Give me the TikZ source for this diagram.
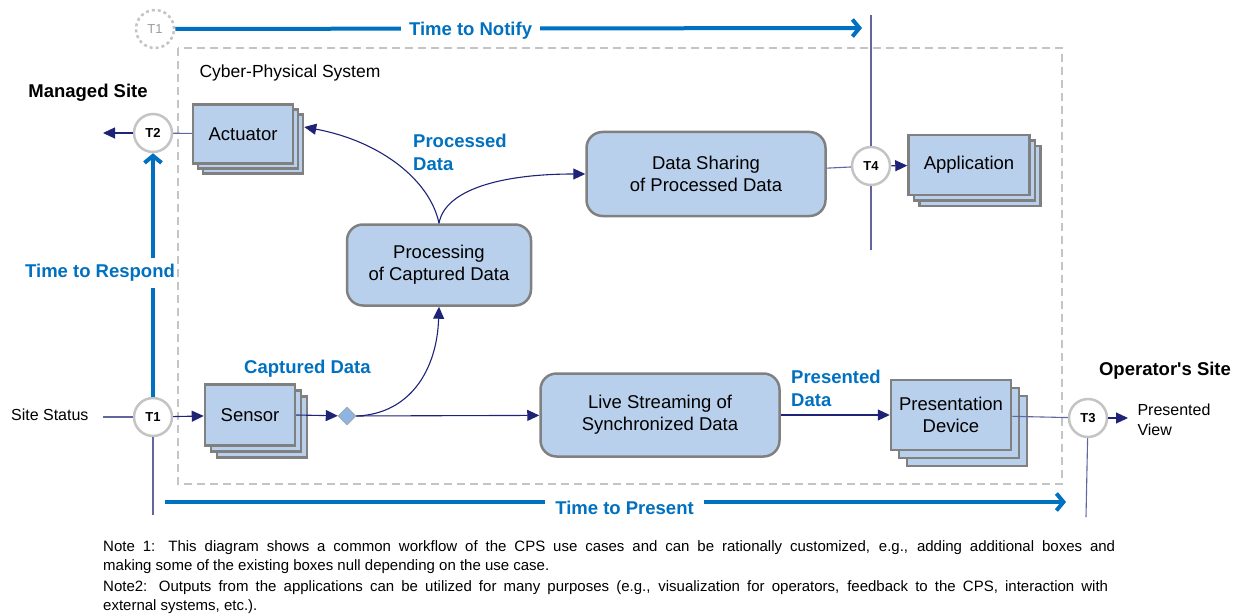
\documentclass[tikz,border=0pt]{standalone}
\usepackage{fontspec}
\setmainfont{Liberation Sans}
\usetikzlibrary{arrows.meta,positioning,shadows,shapes.geometric}
\definecolor{boxblue}{RGB}{185,208,236}
\definecolor{boxgray}{RGB}{128,128,128}
\definecolor{ringgray}{RGB}{196,196,196}
\definecolor{flownavy}{RGB}{30,35,120}
\definecolor{timeblue}{RGB}{0,112,192}
\definecolor{splitblue}{RGB}{142,180,227}
\newcommand\boxfont{\fontsize{18.5}{22}\selectfont}
\newcommand\labelfont{\bfseries\fontsize{18.5}{23}\selectfont}
\tikzset
{
    box/.style      = {rectangle, draw=boxgray, line width=2.5pt, fill=boxblue, align=center, font=\boxfont, inner sep=0pt},
    stackbox/.style = {box,
                       copy shadow={shadow xshift=2*#1, shadow yshift=-2*#1, draw=boxgray, fill=boxblue, line width=2.5pt},
                       copy shadow={shadow xshift=#1, shadow yshift=-#1, draw=boxgray, fill=boxblue, line width=2.5pt}},
    stagebox/.style = {box, rounded corners=16pt},
    tmark/.style    = {circle, draw=ringgray, line width=2.5pt, fill=white, minimum size=38pt, inner sep=0pt, font=\bfseries\fontsize{13}{13}\selectfont},
    flow/.style     = {draw=flownavy, line width=1.1pt, -{Triangle[length=12pt,width=11pt]}},
    wire/.style     = {draw=flownavy!70, line width=1.1pt},
    timer/.style    = {draw=timeblue, line width=4pt, -{Straight Barb[length=7pt,width=17pt,line width=4pt]}},
    tlabel/.style   = {text=timeblue, font=\labelfont, fill=white, inner xsep=8pt, inner ysep=2pt},
    sitelabel/.style= {font=\bfseries\fontsize{18.5}{22}\selectfont},
    notefont/.style = {anchor=west, inner sep=0pt, font=\fontsize{15}{18}\selectfont}
}
\begin{document}
\begin{tikzpicture}[x=1pt, y=-1pt]
  \useasboundingbox (0,0) rectangle (1244,615);

  % cyber-physical system frame
  \draw[ringgray, line width=2pt, dash pattern=on 8pt off 5pt] (178,48) rectangle (1062,484);
  \node (cps) [anchor=west, font=\fontsize{17.5}{20}\selectfont] at (196,73) {Cyber-Physical System};

  % boxes
  \node (act)  [stackbox=5pt, minimum width=100pt, minimum height=59pt] at (243,134) {Actuator};
  \node (sen)  [stackbox=6pt, minimum width=90pt, minimum height=61pt]  at (250,415) {Sensor};
  \node (app)  [stackbox=5.5pt, minimum width=121pt, minimum height=60pt] at (969,165) {Application};
  \node (pres) [stackbox=8pt, minimum width=120pt, minimum height=70pt] at (951,415) {Presentation\\Device};
  \node (proc) [stagebox, minimum width=184pt, minimum height=81pt] at (439,265) {Processing\\of Captured Data};
  \node (share)[stagebox, minimum width=239pt, minimum height=84pt] at (706,174) {Data Sharing\\of Processed Data};
  \node (live) [stagebox, minimum width=239pt, minimum height=83pt] at (660,415) {Live Streaming of\\Synchronized Data};
  \node (split)[diamond, draw=ringgray!85!black, fill=splitblue, line width=0.8pt, minimum size=18pt, inner sep=0pt] at (347,416) {};

  % time marks
  \node (t1n) [tmark, dashed, font=\fontsize{13}{13}\selectfont, text=ringgray!80!black] at (155,29) {T1};
  \node (t1)  [tmark] at (153,417) {T1};
  \node (t2)  [tmark] at (153,133) {T2};
  \node (t3)  [tmark] at (1088,418) {T3};
  \node (t4)  [tmark] at (871,166) {T4};

  % free ends
  \coordinate (stin)   at (103,417);
  \coordinate (mgout)  at (103,133);
  \coordinate (opout)  at (1128,418);
  \coordinate (t1low)  at (153,515);
  \coordinate (t3low)  at (1086,517);
  \coordinate (t4top)  at (871,15);
  \coordinate (t4low)  at (871,250);
  \coordinate (ntend)  at (862,28);
  \coordinate (ptbeg)  at (165,502);
  \coordinate (ptend)  at (1066,502);

  % texts
  \node (site) [anchor=east, font=\fontsize{16}{18}\selectfont] at (92,415) {Site Status};
  \node (view) [anchor=west, align=left, font=\fontsize{16}{20}\selectfont] at (1134,420) {Presented\\View};
  \node (mgs)  [sitelabel] at (88,93) {Managed Site};
  \node (ops)  [sitelabel] at (1165,371) {Operator\textquotesingle s Site};
  \node (lcap) [anchor=west, text=timeblue, font=\labelfont, inner sep=0pt] at (244,369) {Captured Data};
  \node (lproc)[anchor=west, align=left, text=timeblue, font=\labelfont, inner sep=0pt] at (413,152) {Processed\\Data};
  \node (lpres)[anchor=west, align=left, text=timeblue, font=\labelfont, inner sep=0pt] at (791,388) {Presented\\Data};

  % thin lines behind the marks
  \draw[wire] (t4top) -- (t4) -- (t4low);
  \draw[wire] (t1) -- (t1low);
  \draw[wire] (t3) -- (t3low);

  % flows
  \draw[wire] (stin) -- (t1);
  \draw[flow] (t1) -- (sen);
  \draw[flow] (sen.east) -- (split);
  \draw[flow] (split) -- (live);
  \draw[flow] (split.east) .. controls (410,414) and (437,370) .. (proc.south);
  \draw[flow] (proc.north) .. controls (430,180) and (380,141) .. ([xshift=10pt,yshift=7pt]act.east);
  \draw[flow] (proc.north) .. controls (445,190) and (500,174) .. (share.west);
  \draw[wire] (share) -- (t4);
  \draw[flow] (t4) -- (app);
  \draw[flow] (live.east |- pres) -- (pres);
  \draw[wire] (pres) -- (t3);
  \draw[flow] (t3) -- (opout);
  \draw[wire] (act) -- (t2);
  \draw[flow] (t2) -- (mgout);

  % time spans
  \draw[timer] (t1n) -- (ntend) node[tlabel, pos=0.43, yshift=-2pt] {Time to Notify};
  \draw[timer] (t1) -- (t2);
  \node (lresp) [tlabel, inner xsep=2pt, inner ysep=6pt] at (100,273) {Time to Respond};
  \draw[timer] (ptbeg) -- (ptend) node[tlabel, pos=0.51, yshift=-6pt, inner xsep=10pt, inner ysep=4pt] {Time to Present};

  % notes
  \node (n1) [notefont] at (103,548) {\hbox to 1012pt{Note 1: This diagram shows a common workflow of the CPS use cases and can be rationally customized, e.g., adding additional boxes and}};
  \node (n2) [notefont] at (103,567) {making some of the existing boxes null depending on the use case.};
  \node (n3) [notefont] at (103,588) {\hbox to 1005pt{Note2: Outputs from the applications can be utilized for many purposes (e.g., visualization for operators, feedback to the CPS, interaction with}};
  \node (n4) [notefont] at (103,607) {external systems, etc.).};
\end{tikzpicture}
\end{document}
